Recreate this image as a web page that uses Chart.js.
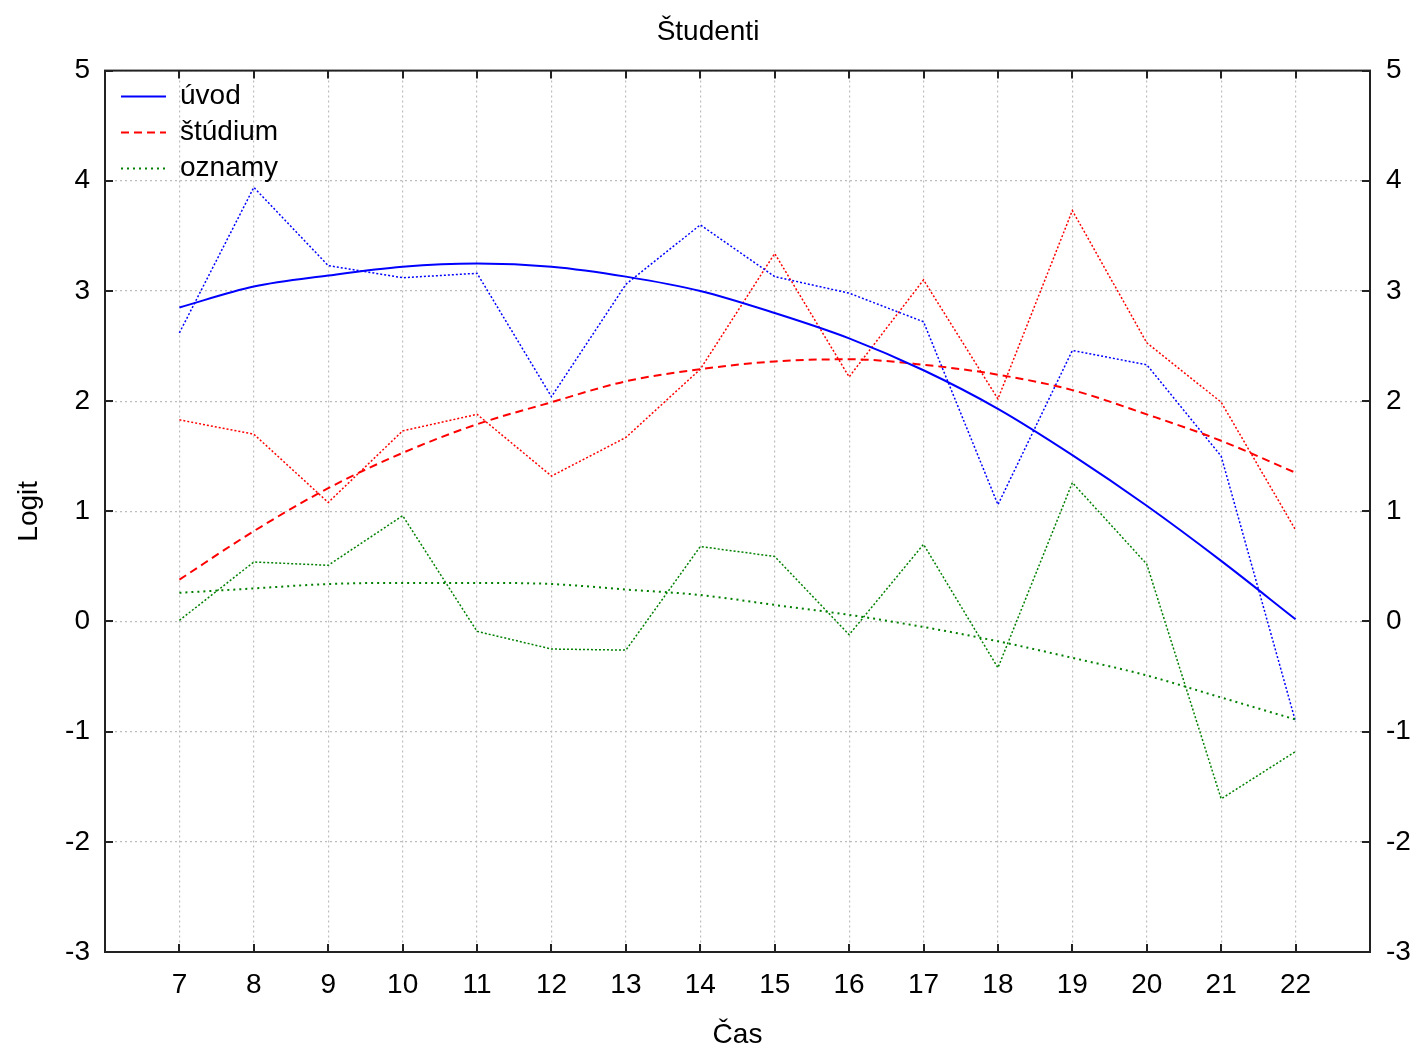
<!DOCTYPE html>
<html>
<head>
<meta charset="utf-8">
<title>Študenti</title>
<script src="https://cdn.jsdelivr.net/npm/chart.js@4.4.1/dist/chart.umd.min.js"></script>
<style>
  html, body { margin: 0; padding: 0; background: #ffffff; }
  #wrap { width: 1416px; height: 1048px; position: relative; }
</style>
</head>
<body>
<div id="wrap"><canvas id="logitChart"></canvas></div>
<script>
// hodiny (os x)
const hodiny = [7, 8, 9, 10, 11, 12, 13, 14, 15, 16, 17, 18, 19, 20, 21, 22];

// vyrovnane krivky (legenda)
const uvodFit = [2.85, 3.04, 3.14, 3.22, 3.25, 3.22, 3.13, 3.00, 2.80, 2.57, 2.28, 1.93, 1.51, 1.05, 0.55, 0.02];
const studiumFit = [0.38, 0.82, 1.21, 1.53, 1.79, 1.99, 2.18, 2.29, 2.36, 2.38, 2.33, 2.24, 2.10, 1.88, 1.64, 1.35];
const oznamyFit = [0.26, 0.30, 0.34, 0.35, 0.35, 0.34, 0.29, 0.24, 0.15, 0.06, -0.05, -0.18, -0.33, -0.49, -0.69, -0.89];

// pozorovane hodnoty
const uvodRaw = [2.62, 3.94, 3.23, 3.12, 3.16, 2.04, 3.06, 3.60, 3.13, 2.98, 2.72, 1.06, 2.46, 2.33, 1.50, -0.91];
const studiumRaw = [1.83, 1.70, 1.08, 1.73, 1.88, 1.32, 1.67, 2.29, 3.34, 2.22, 3.10, 2.02, 3.73, 2.53, 1.99, 0.83];
const oznamyRaw = [0.01, 0.54, 0.51, 0.96, -0.09, -0.25, -0.26, 0.68, 0.59, -0.12, 0.70, -0.42, 1.26, 0.52, -1.61, -1.18];

const yTicks = [-3, -2, -1, 0, 1, 2, 3, 4, 5];

const modra = "#0000ff";
const cervena = "#ff0000";
const zelena = "#008000";

function body(values) {
    return values.map((v, i) => ({ x: hodiny[i], y: v }));
}

function krivka(label, values, color, dash, width) {
    return {
        label: label,
        data: body(values),
        borderColor: color,
        backgroundColor: color,
        borderWidth: width,
        borderDash: dash,
        pointRadius: 0,
        cubicInterpolationMode: "monotone",
        tension: 0.4,
    };
}

function surove(label, values, color) {
    return {
        label: label,
        data: body(values),
        borderColor: color,
        backgroundColor: color,
        borderWidth: 1.5,
        borderDash: [2, 2],
        pointRadius: 0,
        tension: 0,
    };
}

const font = { family: "'Liberation Sans', Arial, sans-serif", size: 28 };
const mriezka = { color: "#bdbdbd", lineWidth: 1.2, drawTicks: false };

// ramcek a dovnutra smerujuce znacky
const ramcek = {
    id: "ramcek",
    afterLayout(chart) {
        const lg = chart.legend;
        lg.left = chart.chartArea.left + 8;
        lg.top = chart.chartArea.top + 4;
    },
    afterDraw(chart) {
        const ctx = chart.ctx;
        const a = chart.chartArea;
        const sx = chart.scales.x;
        const sy = chart.scales.y;
        const len = 8;
        ctx.save();
        ctx.strokeStyle = "#222222";
        ctx.lineWidth = 2;
        ctx.setLineDash([]);
        ctx.strokeRect(a.left, a.top, a.right - a.left, a.bottom - a.top);
        ctx.beginPath();
        hodiny.forEach((h) => {
            const px = Math.round(sx.getPixelForValue(h));
            ctx.moveTo(px, a.bottom); ctx.lineTo(px, a.bottom - len);
            ctx.moveTo(px, a.top); ctx.lineTo(px, a.top + len);
        });
        yTicks.forEach((t) => {
            const py = Math.round(sy.getPixelForValue(t));
            ctx.moveTo(a.left, py); ctx.lineTo(a.left + len, py);
            ctx.moveTo(a.right, py); ctx.lineTo(a.right - len, py);
        });
        ctx.stroke();
        ctx.restore();
    },
};

const ctx = document.getElementById("logitChart").getContext("2d");

const logitChart = new Chart(ctx, {
    type: "line",
    data: {
        datasets: [
            krivka("úvod", uvodFit, modra, [], 2),
            krivka("štúdium", studiumFit, cervena, [8, 5], 2),
            krivka("oznamy", oznamyFit, zelena, [2, 4], 2),
            surove("úvod raw", uvodRaw, modra),
            surove("štúdium raw", studiumRaw, cervena),
            surove("oznamy raw", oznamyRaw, zelena),
        ],
    },
    options: {
        responsive: true,
        maintainAspectRatio: false,
        devicePixelRatio: 1,
        animation: false,
        layout: { padding: 0 },
        plugins: {
            title: {
                display: true,
                text: "Študenti",
                color: "#000000",
                font: { family: font.family, size: 28, weight: "normal" },
                padding: { top: 15, bottom: 22 },
            },
            legend: {
                position: "chartArea",
                align: "start",
                labels: {
                    generateLabels: (chart) =>
                        Chart.defaults.plugins.legend.labels.generateLabels(chart).map((l) => {
                            const ds = chart.data.datasets[l.datasetIndex];
                            l.lineDash = ds.borderDash;
                            l.lineWidth = ds.borderWidth;
                            l.strokeStyle = ds.borderColor;
                            return l;
                        }),
                    filter: (item) => item.datasetIndex < 3,
                    usePointStyle: true,
                    pointStyle: "line",
                    pointStyleWidth: 45,
                    boxWidth: 45,
                    padding: 8,
                    color: "#000000",
                    font: font,
                },
            },
            tooltip: { enabled: false },
        },
        scales: {
            x: {
                type: "linear",
                min: 6,
                max: 23,
                afterFit: (s) => { s.height = 96; },
                ticks: {
                    stepSize: 1,
                    color: "#000000",
                    font: font,
                    padding: 16,
                    maxRotation: 0,
                    callback: (v) => (v >= 7 && v <= 22 ? String(v) : ""),
                },
                grid: mriezka,
                border: { display: false, dash: [2, 3] },
                title: {
                    display: true,
                    text: "Čas",
                    color: "#000000",
                    font: font,
                    padding: { top: 0, bottom: -4 },
                },
            },
            y: {
                position: "left",
                min: -3,
                max: 5,
                afterFit: (s) => { s.width = 105; },
                ticks: {
                    stepSize: 1,
                    color: "#000000",
                    font: font,
                    padding: 15,
                },
                grid: mriezka,
                border: { display: false, dash: [2, 3] },
                title: {
                    display: true,
                    text: "Logit",
                    color: "#000000",
                    font: font,
                    padding: { top: 12, bottom: 0 },
                },
            },
            y2: {
                position: "right",
                min: -3,
                max: 5,
                afterFit: (s) => { s.width = 46; },
                ticks: {
                    stepSize: 1,
                    color: "#000000",
                    font: font,
                    padding: 16,
                },
                grid: { display: false, drawTicks: false },
                border: { display: false },
            },
        },
    },
    plugins: [ramcek],
});
</script>
</body>
</html>
